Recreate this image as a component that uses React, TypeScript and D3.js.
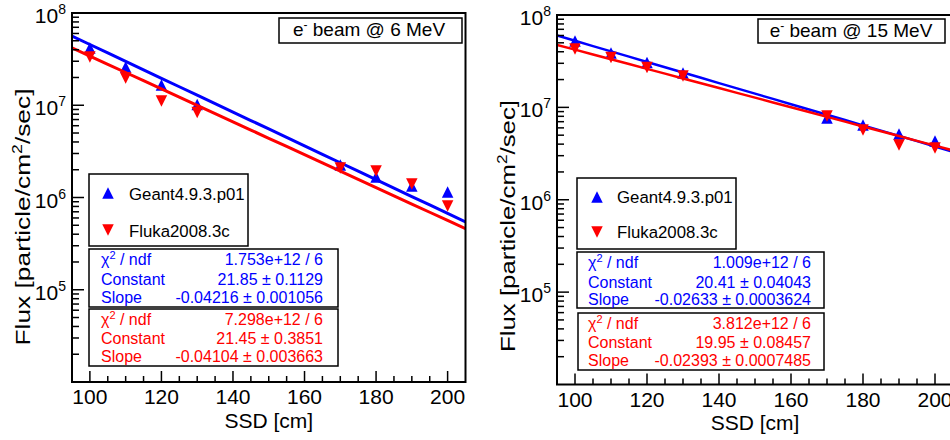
import React from 'react';
import * as d3 from 'd3';

// Source-to-surface distances of the measurement points [cm]
const ssd = [100, 110, 120, 130, 170, 180, 190, 200];

// Flux [particle/cm^2/sec], 6 MeV electron beam
const geant6MeV = [4.18e7, 2.6e7, 1.66e7, 1.02e7, 2.25e6, 1.67e6, 1.33e6, 1.15e6];
const fluka6MeV = [3.33e7, 1.97e7, 1.11e7, 8.35e6, 2.09e6, 1.94e6, 1.4e6, 8.1e5];

// Flux [particle/cm^2/sec], 15 MeV electron beam
const geant15MeV = [5.23e7, 3.88e7, 3.06e7, 2.35e7, 7.68e6, 6.45e6, 5.15e6, 4.32e6];
const fluka15MeV = [4.28e7, 3.47e7, 2.7e7, 2.19e7, 8.07e6, 5.69e6, 3.92e6, 3.64e6];

// Exponential fits: flux = exp(constant + slope * SSD)
const fitGeant6MeV = { chi2: '1.753e+12 / 6', constant: 21.85, constantErr: '0.1129', slope: -0.04216, slopeErr: '0.001056' };
const fitFluka6MeV = { chi2: '7.298e+12 / 6', constant: 21.45, constantErr: '0.3851', slope: -0.04104, slopeErr: '0.003663' };
const fitGeant15MeV = { chi2: '1.009e+12 / 6', constant: 20.41, constantErr: '0.04043', slope: -0.02633, slopeErr: '0.0003624' };
const fitFluka15MeV = { chi2: '3.812e+12 / 6', constant: 19.95, constantErr: '0.08457', slope: -0.02393, slopeErr: '0.0007485' };

const seriesNames = ['Geant4.9.3.p01', 'Fluka2008.3c'];
const beamEnergies = ['6', '15'];

const xDomain = [95, 205];
const yDomain = [1e4, 1e8];
const xTickValues = [100, 120, 140, 160, 180, 200];
const yLabelDecades = [1e5, 1e6, 1e7, 1e8];

const FONT = '"Liberation Sans", Arial, Helvetica, sans-serif';
const BLUE = '#0000ff';
const RED = '#ff0000';

type Fit = { chi2: string; constant: number; constantErr: string; slope: number; slopeErr: string };
type Box = { x: number; y: number; w: number; h: number };
type Layout = {
  left: number; right: number; top: number; bottom: number;
  lineWidth: number;
  titleBox: Box; titleX: number; titleY: number;
  legendBox: Box; legendMarkerX: number; legendTextX: number; legendRows: number[]; legendBase: number[];
  statBoxes: Box[]; statLabelX: number; statValueX: number; statBase: number[][];
  yTitleX: number; yTitleY: number; yTitleLen: number;
};

const layouts: Layout[] = [
  {
    left: 72, right: 465.5, top: 13, bottom: 382, lineWidth: 3,
    titleBox: { x: 279, y: 18, w: 183, h: 25 }, titleX: 369, titleY: 36,
    legendBox: { x: 89, y: 174, w: 159, h: 72 }, legendMarkerX: 108, legendTextX: 129,
    legendRows: [193, 230], legendBase: [200, 237],
    statBoxes: [{ x: 89, y: 249, w: 249, h: 58 }, { x: 89, y: 309, w: 249, h: 57 }],
    statLabelX: 101, statValueX: 323,
    statBase: [[265, 285, 303], [325, 344, 362]],
    yTitleX: 30, yTitleY: 217, yTitleLen: 257,
  },
  {
    left: 557, right: 953, top: 15, bottom: 384.5, lineWidth: 2.5,
    titleBox: { x: 758, y: 19, w: 187, h: 24 }, titleX: 851, titleY: 37,
    legendBox: { x: 577, y: 178, w: 159, h: 71 }, legendMarkerX: 597, legendTextX: 617,
    legendRows: [197, 232], legendBase: [203, 238],
    statBoxes: [{ x: 577, y: 252, w: 247, h: 56 }, { x: 578, y: 313, w: 246, h: 57 }],
    statLabelX: 588, statValueX: 811,
    statBase: [[268, 288, 305], [329, 348, 366]],
    yTitleX: 515, yTitleY: 226, yTitleLen: 252,
  },
];

const triangle = (cx: number, cy: number, up: boolean, s = 11.5) => {
  const h = s / 2;
  return up
    ? `M${cx},${cy - h}L${cx + h},${cy + h}L${cx - h},${cy + h}Z`
    : `M${cx},${cy + h}L${cx + h},${cy - h}L${cx - h},${cy - h}Z`;
};

const StatBox = ({ box, fit, color, labelX, valueX, base }: { box: Box; fit: Fit; color: string; labelX: number; valueX: number; base: number[] }) => (
  <g fontFamily={FONT} fontSize={16} fill={color}>
    <rect x={box.x} y={box.y} width={box.w} height={box.h} fill="#fff" stroke="#000" strokeWidth={1.5} />
    <text x={labelX} y={base[0]}>
      χ<tspan dy={-6} fontSize={11}>2</tspan><tspan dy={6}> / ndf</tspan>
    </text>
    <text x={valueX} y={base[0]} textAnchor="end">{fit.chi2}</text>
    <text x={labelX} y={base[1]}>Constant</text>
    <text x={valueX} y={base[1]} textAnchor="end">{`${fit.constant} \u00b1 ${fit.constantErr}`}</text>
    <text x={labelX} y={base[2]}>Slope</text>
    <text x={valueX} y={base[2]} textAnchor="end">{`${fit.slope} \u00b1 ${fit.slopeErr}`}</text>
  </g>
);

const Panel = ({ idx, geant, fluka, fitG, fitF }: { idx: number; geant: number[]; fluka: number[]; fitG: Fit; fitF: Fit }) => {
  const L = layouts[idx];
  const x = d3.scaleLinear().domain(xDomain).range([L.left, L.right]);
  const y = d3.scaleLog().domain(yDomain).range([L.bottom, L.top]);
  const clipId = `frame-clip-${idx}`;

  const fitLine = (f: Fit) =>
    d3.line<number>()
      .x((d) => x(d))
      .y((d) => y(Math.exp(f.constant + f.slope * d)))(d3.range(xDomain[0], xDomain[1] + 0.001, 5));

  const xMinor = d3.range(100, 205, 5).filter((v) => !xTickValues.includes(v));
  const yMinor: number[] = [];
  [1e4, 1e5, 1e6, 1e7].forEach((d) => { for (let m = 2; m <= 9; m++) yMinor.push(d * m); });

  return (
    <g>
      <defs>
        <clipPath id={clipId}>
          <rect x={L.left} y={L.top} width={L.right - L.left} height={L.bottom - L.top} />
        </clipPath>
      </defs>

      {/* data and fits */}
      <g clipPath={`url(#${clipId})`}>
        {geant.map((v, i) => (
          <path key={`g${i}`} d={triangle(x(ssd[i]), y(v), true)} fill={BLUE} />
        ))}
        <path d={fitLine(fitG) ?? ''} fill="none" stroke={BLUE} strokeWidth={L.lineWidth} />
        {fluka.map((v, i) => (
          <path key={`f${i}`} d={triangle(x(ssd[i]), y(v), false)} fill={RED} />
        ))}
        <path d={fitLine(fitF) ?? ''} fill="none" stroke={RED} strokeWidth={L.lineWidth} />
      </g>

      {/* frame */}
      <rect x={L.left} y={L.top} width={L.right - L.left} height={L.bottom - L.top} fill="none" stroke="#000" strokeWidth={2} />

      {/* x axis ticks */}
      {xTickValues.map((v) => (
        <line key={`xt${v}`} x1={x(v)} x2={x(v)} y1={L.bottom} y2={L.bottom - 11} stroke="#000" strokeWidth={1.5} />
      ))}
      {xMinor.map((v) => (
        <line key={`xm${v}`} x1={x(v)} x2={x(v)} y1={L.bottom} y2={L.bottom - 6} stroke="#000" strokeWidth={1.5} />
      ))}
      <g fontFamily={FONT} fontSize={21} textAnchor="middle" fill="#000">
        {xTickValues.map((v) => (
          <text key={`xl${v}`} x={x(v)} y={L.bottom + 22}>{v}</text>
        ))}
        <text x={(L.left + L.right) / 2} y={L.bottom + 45.5}>SSD [cm]</text>
      </g>

      {/* y axis ticks */}
      {yLabelDecades.map((v) => (
        <line key={`yt${v}`} x1={L.left} x2={L.left + 12} y1={y(v)} y2={y(v)} stroke="#000" strokeWidth={1.5} />
      ))}
      {yMinor.map((v) => (
        <line key={`ym${v}`} x1={L.left} x2={L.left + 7} y1={y(v)} y2={y(v)} stroke="#000" strokeWidth={1.5} />
      ))}
      <g fontFamily={FONT} fontSize={21} textAnchor="end" fill="#000">
        {yLabelDecades.map((v) => (
          <text key={`yl${v}`} x={L.left - 6} y={y(v) + 10}>
            10<tspan dy={-9} fontSize={14}>{Math.round(Math.log10(v))}</tspan>
          </text>
        ))}
      </g>
      <text
        transform={`translate(${L.yTitleX},${L.yTitleY}) rotate(-90)`}
        textAnchor="middle" fontFamily={FONT} fontSize={21} fill="#000"
        textLength={L.yTitleLen} lengthAdjust="spacingAndGlyphs"
      >
        Flux [particle/cm<tspan dy={-8} fontSize={14}>2</tspan><tspan dy={8}>/sec]</tspan>
      </text>

      {/* beam title */}
      <rect x={L.titleBox.x} y={L.titleBox.y} width={L.titleBox.w} height={L.titleBox.h} fill="#fff" stroke="#000" strokeWidth={1.5} />
      <text x={L.titleX} y={L.titleY} textAnchor="middle" fontFamily={FONT} fontSize={19} fill="#000">
        e<tspan dy={-7} fontSize={12}>-</tspan><tspan dy={7}> beam @ {beamEnergies[idx]} MeV</tspan>
      </text>

      {/* legend */}
      <rect x={L.legendBox.x} y={L.legendBox.y} width={L.legendBox.w} height={L.legendBox.h} fill="#fff" stroke="#000" strokeWidth={1.5} />
      <path d={triangle(L.legendMarkerX, L.legendRows[0], true)} fill={BLUE} />
      <path d={triangle(L.legendMarkerX, L.legendRows[1], false)} fill={RED} />
      <g fontFamily={FONT} fontSize={16.8} fill="#000">
        <text x={L.legendTextX} y={L.legendBase[0]}>{seriesNames[0]}</text>
        <text x={L.legendTextX} y={L.legendBase[1]}>{seriesNames[1]}</text>
      </g>

      {/* fit statistics */}
      <StatBox box={L.statBoxes[0]} fit={fitG} color={BLUE} labelX={L.statLabelX} valueX={L.statValueX} base={L.statBase[0]} />
      <StatBox box={L.statBoxes[1]} fit={fitF} color={RED} labelX={L.statLabelX} valueX={L.statValueX} base={L.statBase[1]} />
    </g>
  );
};

export default function App() {
  return (
    <svg width={950} height={440} style={{ position: 'absolute', left: 0, top: 0, background: '#fff' }}>
      <rect width={950} height={440} fill="#fff" />
      <Panel idx={0} geant={geant6MeV} fluka={fluka6MeV} fitG={fitGeant6MeV} fitF={fitFluka6MeV} />
      <Panel idx={1} geant={geant15MeV} fluka={fluka15MeV} fitG={fitGeant15MeV} fitF={fitFluka15MeV} />
    </svg>
  );
}
